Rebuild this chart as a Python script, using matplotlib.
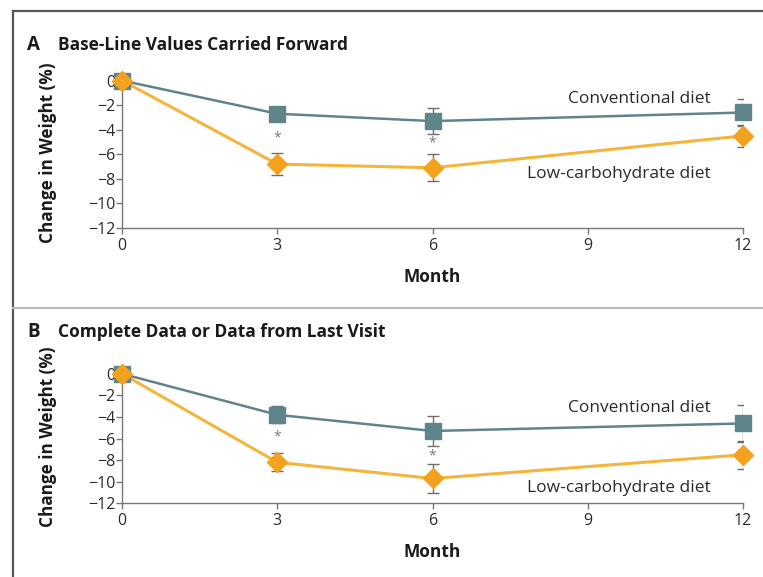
import matplotlib
matplotlib.use("Agg")
import matplotlib.pyplot as plt
from matplotlib.lines import Line2D

plt.rcParams['font.family'] = ['Open Sans', 'DejaVu Sans']

months = [0, 3, 6, 12]
x_ticks = [0, 3, 6, 9, 12]
y_ticks = [0, -2, -4, -6, -8, -10, -12]

# Panel A: Base-Line Values Carried Forward
a_conv = [0, -2.7, -3.3, -2.6]
a_conv_err = [0, 0.5, 1.05, 1.1]
a_low = [0, -6.8, -7.1, -4.5]
a_low_err = [0, 0.9, 1.1, 0.9]
a_star_x = [3, 6]
a_star_y = [-4.7, -5.1]

# Panel B: Complete Data or Data from Last Visit
b_conv = [0, -3.8, -5.3, -4.6]
b_conv_err = [0, 0.8, 1.4, 1.7]
b_low = [0, -8.2, -9.7, -7.5]
b_low_err = [0, 0.85, 1.3, 1.3]
b_star_x = [3, 6]
b_star_y = [-5.9, -7.65]

panels = [
    dict(letter="A", title="Base-Line Values Carried Forward",
         conv=a_conv, conv_err=a_conv_err, low=a_low, low_err=a_low_err,
         sx=a_star_x, sy=a_star_y, conv_lab_y=-1.5, low_lab_y=-7.6,
         rect=[0.1599, 0.6049, 0.8139, 0.2640]),
    dict(letter="B", title="Complete Data or Data from Last Visit",
         conv=b_conv, conv_err=b_conv_err, low=b_low, low_err=b_low_err,
         sx=b_star_x, sy=b_star_y, conv_lab_y=-3.2, low_lab_y=-10.6,
         rect=[0.1599, 0.1277, 0.8139, 0.2320]),
]

conv_col = '#5f858b'
conv_line = '#62838a'
low_col = '#f2a21c'
low_line = '#f3b53c'
err_col = '#6e6e6e'
txt_col = '#2a2a2a'

fig = plt.figure(figsize=(7.63, 5.77), dpi=100)

# outer frame
fig.add_artist(Line2D([13/763, 13/763], [0, 1 - 11/577], color='#555555', lw=1.6, transform=fig.transFigure))
fig.add_artist(Line2D([13/763, 1], [1 - 11/577, 1 - 11/577], color='#555555', lw=1.6, transform=fig.transFigure))
fig.add_artist(Line2D([13/763, 1], [1 - 308/577, 1 - 308/577], color='#bbbbbb', lw=1.6, transform=fig.transFigure))

title_y = {"A": 1 - 45/577, "B": 1 - 332/577}
ylab_y = {"A": 1 - 153/577, "B": 1 - 437/577}
month_y = {"A": 1 - 277/577, "B": 1 - 552/577}

for p in panels:
    ax = fig.add_axes(p["rect"])
    ax.set_xlim(0, 12)
    ax.set_ylim(-12, 0.4)
    for s in ['top', 'right']:
        ax.spines[s].set_visible(False)
    for s in ['left', 'bottom']:
        ax.spines[s].set_color('#777777')
        ax.spines[s].set_linewidth(1.0)
    ax.set_xticks(x_ticks)
    ax.set_yticks(y_ticks)
    ax.set_yticklabels(['0' if v == 0 else '\u2212%d' % -v for v in y_ticks])
    ax.tick_params(axis='both', colors='#777777', labelcolor=txt_col, labelsize=11.5,
                   length=4, width=1.0, direction='out')
    ax.tick_params(axis='x', pad=3)
    ax.tick_params(axis='y', pad=1)
    ax.patch.set_alpha(0)

    ax.plot(months, p["conv"], color=conv_line, lw=1.8, zorder=2, clip_on=False)
    ax.plot(months, p["low"], color=low_line, lw=2.2, zorder=2, clip_on=False)
    ax.errorbar(months[1:], p["conv"][1:], yerr=p["conv_err"][1:], fmt='none',
                ecolor=err_col, elinewidth=1.0, capsize=4, capthick=1.0, zorder=3)
    ax.errorbar(months[1:], p["low"][1:], yerr=p["low_err"][1:], fmt='none',
                ecolor=err_col, elinewidth=1.0, capsize=4, capthick=1.0, zorder=3)
    ax.plot(months, p["conv"], 's', color=conv_col, ms=11, zorder=4, clip_on=False)
    ax.plot(months, p["low"], 'D', color=low_col, ms=10, zorder=5, clip_on=False)

    for sx, sy in zip(p["sx"], p["sy"]):
        ax.text(sx, sy, '*', ha='center', va='center', fontsize=10, color='#777777')

    ax.text(11.38, p["conv_lab_y"], 'Conventional diet', ha='right', va='center',
            fontsize=12.5, color=txt_col)
    ax.text(11.38, p["low_lab_y"], 'Low-carbohydrate diet', ha='right', va='center',
            fontsize=12.5, color=txt_col)

    fig.text(27/763, title_y[p["letter"]], p["letter"], fontsize=13.5, fontweight='bold',
             color='#1a1a1a', va='center', ha='left')
    fig.text(58/763, title_y[p["letter"]], p["title"], fontsize=12.5, fontweight='bold',
             color='#1a1a1a', va='center', ha='left')
    fig.text(48/763, ylab_y[p["letter"]], 'Change in Weight (%)', rotation=90,
             fontsize=12.3, fontweight='bold', color='#1a1a1a', va='center', ha='center')
    fig.text(432/763, month_y[p["letter"]], 'Month', fontsize=12.5, fontweight='bold',
             color='#1a1a1a', va='center', ha='center')

fig.savefig('out.png', dpi=100)
